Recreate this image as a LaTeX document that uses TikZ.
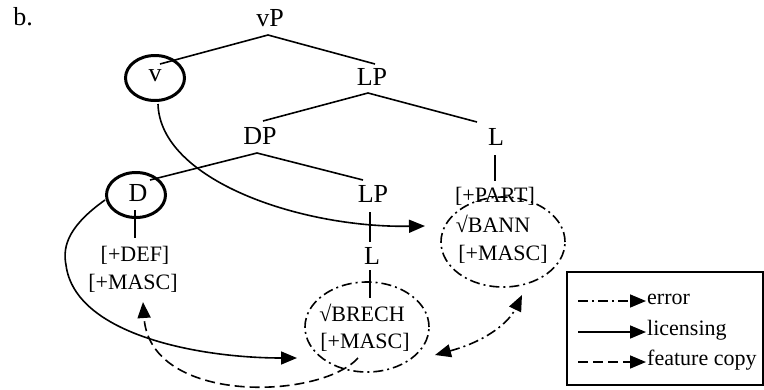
\documentclass[tikz,border=0pt]{standalone}
\usepackage{fontspec}
\setmainfont{Liberation Serif}
\usetikzlibrary{arrows.meta,shapes.geometric}
\begin{document}
\begin{tikzpicture}[x=1pt,y=-1pt,
  lbl/.style={inner sep=0pt,font=\fontsize{22}{26}\selectfont},
  cat/.style={inner sep=0pt,font=\fontsize{26}{30}\selectfont},
  br/.style={line width=1.6pt},
  headc/.style={draw,ellipse,line width=3pt,minimum width=59pt,minimum height=45pt,inner sep=0pt},
  dashdot/.style={line width=1.6pt,dash pattern=on 10pt off 4pt on 2pt off 4pt},
  dashline/.style={line width=1.6pt,dash pattern=on 10pt off 5pt},
  tip/.style={-{Triangle[length=16pt,width=13pt]}},
  tips/.style={{Triangle[length=16pt,width=13pt]}-{Triangle[length=16pt,width=13pt]}},
  rootc/.style={draw,ellipse,dashdot,minimum width=124pt,minimum height=90pt,inner sep=0pt}]
\useasboundingbox (0,0) rectangle (764,389);

% labels
\node[cat] (b) at (23,17) {b.};
\node[cat] (vP) at (270,18) {vP};
\node[headc] (vc) at (155,78) {};
\node[cat] (v) at (155,76) {v};
\node[cat] (LP1) at (372,77) {LP};
\node[cat] (DP) at (260,136) {DP};
\node[cat] (L1) at (496,137) {L};
\node[headc] (Dc) at (136,195) {};
\node[cat] (D) at (138,193) {D};
\node[cat] (LP2) at (373,194) {LP};
\node[lbl] (def) at (135,255) {[+DEF]};
\node[lbl] (masc1) at (133,283) {[+MASC]};
\node[cat] (L2) at (372,256) {L};
\node[lbl] (part) at (495,196) {[+PART]};
\node[lbl] (bann) at (493,224) {√BANN};
\node[lbl] (masc2) at (503,254) {[+MASC]};
\node[rootc] (bannc) at (503,242) {};
\node[lbl] (brech) at (362,313) {√BRECH};
\node[lbl] (masc3) at (365,342) {[+MASC]};
\node[rootc] (brechc) at (367,327) {};

% tree branches
\coordinate (a1) at (268,35);
\coordinate (a1l) at (160,64);
\coordinate (a1r) at (375,64);
\coordinate (a2) at (368,93);
\coordinate (a2l) at (263,121);
\coordinate (a2r) at (477,122);
\coordinate (a3) at (257,153);
\coordinate (a3l) at (150,180);
\coordinate (a3r) at (363,180);
\draw[br] (a1l) -- (a1) -- (a1r);
\draw[br] (a2l) -- (a2) -- (a2r);
\draw[br] (a3l) -- (a3) -- (a3r);
\coordinate (d1) at (135,210); \coordinate (d2) at (135,238);
\draw[br] (d1) -- (d2);
\coordinate (p1) at (370,212); \coordinate (p2) at (370,242);
\draw[br] (p1) -- (p2);
\coordinate (q1) at (370,270); \coordinate (q2) at (370,298);
\draw[br] (q1) -- (q2);
\coordinate (r1) at (495,155); \coordinate (r2) at (495,181);
\draw[br] (r1) -- (r2);

% licensing arrows
\coordinate (vs) at (158,104);
\coordinate (vt) at (425,226);
\draw[br,tip] (vs) .. controls (160,180) and (300,228) .. (vt);
\coordinate (ds) at (105,200);
\coordinate (dm) at (66,265);
\coordinate (dt) at (297,358);
\draw[br,tip] (ds) .. controls (70,225) and (62,245) .. (dm)
  .. controls (75,335) and (200,358) .. (dt);

% feature copy
\coordinate (fs) at (358,358);
\coordinate (ft) at (143,302);
\draw[dashline,tip] (fs) .. controls (320,400) and (150,405) .. (ft);

% error
\coordinate (es) at (435,355);
\coordinate (et) at (522,295);
\draw[dashdot,tips] (es) .. controls (490,340) and (510,320) .. (et);

% legend
\node[draw,line width=1.8pt,minimum width=196pt,minimum height=113pt,inner sep=0pt] (leg) at (665,328.5) {};
\coordinate (l1a) at (578,301); \coordinate (l1b) at (646,301);
\coordinate (l2a) at (578,332); \coordinate (l2b) at (646,332);
\coordinate (l3a) at (578,362); \coordinate (l3b) at (646,362);
\draw[dashdot,tip] (l1a) -- (l1b);
\draw[br,tip] (l2a) -- (l2b);
\draw[dashline,tip] (l3a) -- (l3b);
\node[lbl,anchor=west] (t1) at (647,299) {error};
\node[lbl,anchor=west] (t2) at (647,330) {licensing};
\node[lbl,anchor=west] (t3) at (647,360) {feature copy};
\end{tikzpicture}
\end{document}
